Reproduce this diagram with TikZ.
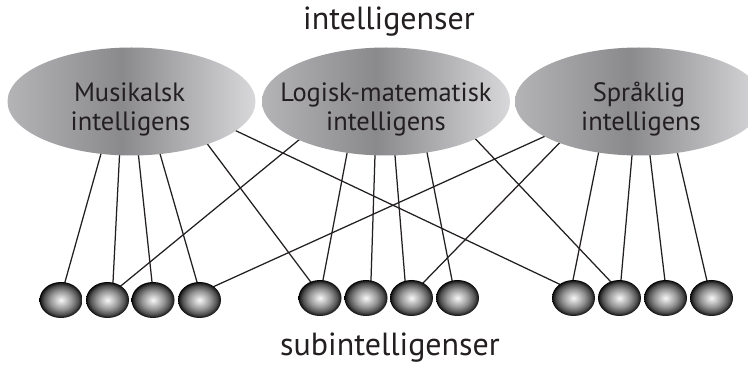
\documentclass[tikz,border=0pt]{standalone}
\usepackage{fontspec}
\setmainfont{PT Sans}
\usetikzlibrary{shapes.geometric,calc,backgrounds}
\definecolor{ellL}{HTML}{B4B4B6}
\definecolor{ellD}{HTML}{8A8A8C}
\definecolor{ellR}{HTML}{D8D8DA}
\definecolor{ink}{HTML}{231F20}
\pgfdeclarehorizontalshading{ellgrad}{100bp}{color(0bp)=(ellL); color(25bp)=(ellL); color(48bp)=(ellD); color(75bp)=(ellR); color(100bp)=(ellR)}
\pgfdeclareradialshading{ballgrad}{\pgfpoint{0bp}{0bp}}{color(0bp)=(white!97!black); color(3bp)=(white!88!black); color(13bp)=(black!42); color(20bp)=(black!68); color(24bp)=(black!90); color(25bp)=(black); color(50bp)=(black)}
\tikzset{
  intel/.style={ellipse, shade, shading=ellgrad, minimum width=248pt, minimum height=108pt, inner sep=0pt},
  ball/.style={ellipse, shade, shading=ballgrad, minimum width=43pt, minimum height=36pt, inner sep=0pt},
  lbl/.style={font=\fontsize{26.5}{30}\selectfont, text=ink, anchor=base, inner sep=0pt},
  ttl/.style={font=\fontsize{32}{36}\selectfont, text=ink, anchor=base, inner sep=0pt},
  link/.style={line width=1.25pt, ink},
}
\newcommand\lnk[4]{%
  \coordinate (lnkE) at ([shift={#2}]#1.center);
  \coordinate (lnkC) at ([shift={#4}]#3.center);
  \draw[link] ($(lnkE)!-10pt!(lnkC)$) -- ($(lnkC)!-6pt!(lnkE)$);}
\begin{document}
\begin{tikzpicture}[x=1pt,y=-1pt]
\useasboundingbox (0,0) rectangle (748,366);
\clip (0,0) rectangle (748,366);
% intelligences
\node[intel] (M) at (131.5,101.5) {};
\node[intel] (L) at (386,101.5) {};
\node[intel] (S) at (639,101.5) {};
\node[lbl] (M1) at ($(M.center)+(-2,0)$) {Musikalsk};
\node[lbl] (M2) at ($(M.center)+(-1,29.5)$) {intelligens};
\node[lbl] (L1) at ($(L.center)+(0,0)$) {Logisk-matematisk};
\node[lbl] (L2) at ($(L.center)+(0,29.5)$) {intelligens};
\node[lbl] (S1) at ($(S.center)+(0,0)$) {Språklig};
\node[lbl] (S2) at ($(S.center)+(2,29.5)$) {intelligens};
% subintelligences
\foreach \n/\x in {11/61,12/107.5,13/153,14/199.5}{\node[ball] (b\n) at (\x,300) {};}
\foreach \n/\x in {21/320,22/366,23/411.5,24/457.5,31/573.5,32/619.5,33/665.5,34/711.5}{\node[ball] (b\n) at (\x,298) {};}
% titles
\node[ttl] (T) at (389,30) {intelligenser};
\node[ttl] (B) at (390,356) {subintelligenser};
% connectors
\begin{scope}[on background layer]
\fill[white] (0,0) rectangle (748,366);
\lnk{M}{(-31,54)}{b11}{(4,-18)}
\lnk{M}{(-12,54)}{b12}{(5.5,-18)}
\lnk{M}{(7,54)}{b13}{(-1,-18)}
\lnk{M}{(29,54)}{b14}{(-2.5,-18)}
\lnk{M}{(77,44)}{b21}{(-10,-17)}
\lnk{M}{(106,30)}{b31}{(-16.5,-15)}
\lnk{L}{(-89,40)}{b12}{(14.5,-15)}
\lnk{L}{(-39,52)}{b21}{(3,-18)}
\lnk{L}{(-11,54)}{b22}{(5,-18)}
\lnk{L}{(9,54)}{b23}{(-6.5,-18)}
\lnk{L}{(41,51)}{b24}{(-5.5,-18)}
\lnk{L}{(91,39)}{b32}{(-8.5,-16)}
\lnk{S}{(-99,37)}{b14}{(15.5,-14)}
\lnk{S}{(-82,44)}{b23}{(11.5,-15)}
\lnk{S}{(-41,54)}{b31}{(-0.5,-18)}
\lnk{S}{(-7,54)}{b32}{(1.5,-18)}
\lnk{S}{(11,54)}{b33}{(-0.5,-17)}
\lnk{S}{(39,54)}{b34}{(-4.5,-17)}
\end{scope}
\end{tikzpicture}
\end{document}
